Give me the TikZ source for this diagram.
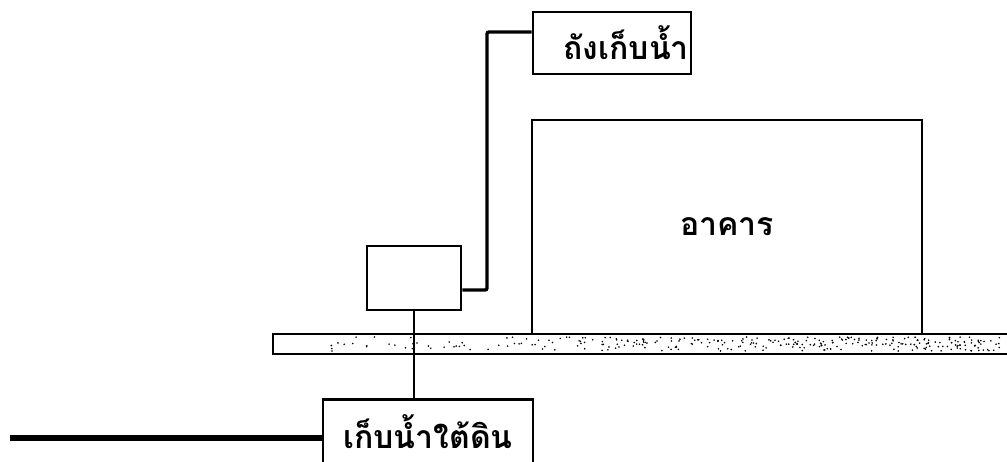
\documentclass[tikz,border=0pt]{standalone}
\usepackage{fontspec}
\newfontfamily\thaifont[Script=Thai]{Loma}
\usetikzlibrary{positioning,calc}

\begin{document}
\begin{tikzpicture}[
  x=1pt, y=-1pt,
  every node/.style={font=\thaifont\bfseries\fontsize{32}{34}\selectfont},
  box/.style={draw, line width=2.8pt, inner sep=0pt},
  pipe/.style={line width=3.4pt, rounded corners=2pt},
  mainpipe/.style={line width=5.5pt}
]
\useasboundingbox (0,0) rectangle (1007,461);
\clip (0,0) rectangle (1007,461);

% ground strip
\draw[line width=2.8pt] (1012,334) -- (273,334) -- (273,354) -- (1012,354);
\pgfmathsetseed{11}
\foreach \i in {1,...,300}
  \fill ({276+727*sqrt(rnd)},{337+14*rnd}) circle[radius=0.9pt];

% boxes
\node[box, minimum width=158pt, minimum height=62pt, text width=154pt, inner xsep=2pt, align=right]
  (tank) at (612,43) {ถังเก็บน้ำ};
\node[box, minimum width=390pt, minimum height=214pt] (bldg) at (727,227) {อาคาร};
\node[box, minimum width=94pt, minimum height=64pt] (pump) at (414,278) {};
\node[box, anchor=north, minimum width=210pt, inner ysep=6pt, text height=43pt, text depth=30pt]
  (under) at (428,398) {เก็บน้ำใต้ดิน};

% pipes
\coordinate (bend) at (487,290);
\coordinate (inlet) at (10,438);
\draw[pipe] ([yshift=11pt]tank.west) -| (bend) -- (pump.east |- bend);
\draw[line width=2.8pt] (pump.south) -- (pump.south |- under.north);
\draw[mainpipe] (inlet) -- (under.west |- inlet);
\end{tikzpicture}
\end{document}
